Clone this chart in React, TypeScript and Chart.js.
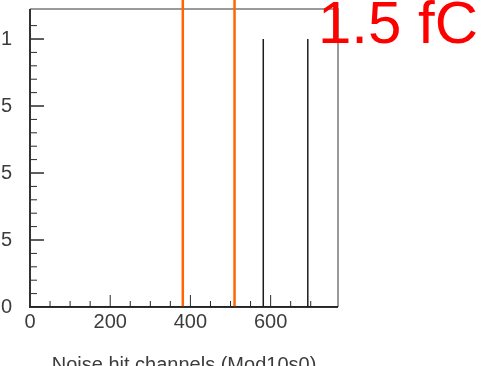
import { useEffect, useRef } from "react";
import { Chart, registerables } from "chart.js";

Chart.register(...registerables);

// ---- data ----
const hitChannels = [581, 692];
const hitCounts = [1, 1];
const thresholdChannels = [381, 510];
const xMajorLabels = [0, 200, 400, 600];
const yMajorLabels = [0, 0.25, 0.5, 0.75, 1];
const xMin = 0;
const xMax = 768;
const yMin = 0;
const yMax = 1.112;
const thresholdTop = 1.2;
const xTitle = "Noise hit channels (Mod10s0)";
const chargeLabel = "1.5 fC";

const FONT = "'Liberation Sans', Arial, Helvetica, sans-serif";
const SHIFT_X = 60;
const CANVAS_W = 560;
const CANVAS_H = 400;

const near = (a: number, b: number) => Math.abs(a - b) < 1e-6;
const isStep = (v: number, s: number) => near(v / s, Math.round(v / s));

const rootFrame = {
  id: "rootFrame",
  beforeDatasetsDraw(chart: any) {
    const { ctx, chartArea: a, scales } = chart;
    const x = scales.x;
    const y = scales.y;
    ctx.save();
    ctx.strokeStyle = "#2a2a2a";
    ctx.lineWidth = 1;
    x.ticks.forEach((t: any) => {
      if (!isStep(t.value, 50) || t.value <= xMin || t.value >= xMax) return;
      const major = xMajorLabels.some((m) => near(m, t.value));
      const px = x.getPixelForValue(t.value);
      const len = major ? 12 : 6;
      ctx.beginPath();
      ctx.moveTo(px, a.bottom);
      ctx.lineTo(px, a.bottom - len);
      ctx.stroke();
    });
    y.ticks.forEach((t: any) => {
      if (!isStep(t.value, 0.05) || t.value <= yMin || t.value >= yMax) return;
      const major = yMajorLabels.some((m) => near(m, t.value));
      const py = y.getPixelForValue(t.value);
      const len = major ? 14 : 7;
      ctx.lineWidth = major ? 1.5 : 1;
      ctx.beginPath();
      ctx.moveTo(a.left, py);
      ctx.lineTo(a.left + len, py);
      ctx.stroke();
    });
    // frame: top & right light
    ctx.strokeStyle = "#7a7a7a";
    ctx.lineWidth = 1.5;
    ctx.beginPath();
    ctx.moveTo(a.left, a.top);
    ctx.lineTo(a.right, a.top);
    ctx.lineTo(a.right, a.bottom);
    ctx.stroke();
    // axes: left & bottom dark
    ctx.strokeStyle = "#333";
    ctx.lineWidth = 2;
    ctx.beginPath();
    ctx.moveTo(a.left, a.top);
    ctx.lineTo(a.left, a.bottom);
    ctx.lineTo(a.right, a.bottom);
    ctx.stroke();
    ctx.restore();
  },
};

export default function App() {
  const ref = useRef<HTMLCanvasElement | null>(null);

  useEffect(() => {
    if (!ref.current) return;
    const hist: { x: number; y: number }[] = [{ x: xMin, y: 0 }];
    hitChannels.forEach((ch, i) => {
      hist.push({ x: ch, y: 0 }, { x: ch, y: hitCounts[i] }, { x: ch + 1, y: hitCounts[i] }, { x: ch + 1, y: 0 });
    });
    hist.push({ x: xMax, y: 0 });

    const thresholdSets = thresholdChannels.map((ch) => ({
      data: [
        { x: ch, y: 0 },
        { x: ch, y: thresholdTop },
      ],
      borderColor: "#ff6600",
      borderWidth: 2.5,
      pointRadius: 0,
      clip: false as any,
    }));

    const chart = new Chart(ref.current, {
      type: "line",
      data: {
        datasets: [
          {
            data: hist,
            borderColor: "#1e1e1e",
            borderWidth: 1.5,
            pointRadius: 0,
            tension: 0,
          },
          ...thresholdSets,
        ] as any,
      },
      plugins: [rootFrame],
      options: {
        animation: false,
        responsive: false,
        devicePixelRatio: 1,
        layout: { padding: { left: 0, top: 9, right: CANVAS_W - (338 + SHIFT_X), bottom: 0 } },
        plugins: { legend: { display: false }, tooltip: { enabled: false } },
        scales: {
          x: {
            type: "linear",
            min: xMin,
            max: xMax,
            grid: { display: false, drawTicks: false },
            border: { display: false },
            ticks: {
              stepSize: 50,
              autoSkip: false,
              maxRotation: 0,
              padding: 3,
              color: "#3c3c3c",
              font: { family: FONT, size: 20 },
              callback: (v: any) => {
                const m = xMajorLabels.find((k) => near(k, Number(v)));
                return m === undefined ? "" : String(m);
              },
            },
            title: {
              display: true,
              text: xTitle,
              color: "#3c3c3c",
              font: { family: FONT, size: 20, lineHeight: 1.2 },
              padding: { top: 0, bottom: 23 },
            },
            afterFit: (s: any) => {
              s.height = CANVAS_H - 307;
              s.paddingLeft = 0;
              s.paddingRight = 0;
            },
          },
          y: {
            type: "linear",
            min: yMin,
            max: yMax,
            grid: { display: false, drawTicks: false },
            border: { display: false },
            ticks: {
              stepSize: 0.05,
              autoSkip: false,
              padding: 18,
              color: "#3c3c3c",
              font: { family: FONT, size: 20 },
              callback: (v: any) => {
                const m = yMajorLabels.find((k) => near(k, Number(v)));
                return m === undefined ? "" : String(m);
              },
            },
            afterFit: (s: any) => {
              s.width = 30 + SHIFT_X;
              s.paddingTop = 0;
              s.paddingBottom = 0;
            },
          },
        },
      } as any,
    });
    return () => chart.destroy();
  }, []);

  return (
    <div
      style={{
        position: "fixed",
        left: 0,
        top: 0,
        width: 484,
        height: 366,
        overflow: "hidden",
        background: "#fff",
      }}
    >
      <canvas
        ref={ref}
        width={CANVAS_W}
        height={CANVAS_H}
        style={{ position: "absolute", left: -SHIFT_X, top: 0, width: CANVAS_W, height: CANVAS_H }}
      />
      <div
        style={{
          position: "absolute",
          left: 318,
          top: -7,
          margin: 0,
          fontFamily: FONT,
          fontSize: 60,
          lineHeight: "60px",
          color: "#ff0000",
          whiteSpace: "nowrap",
        }}
      >
        {chargeLabel}
      </div>
    </div>
  );
}
